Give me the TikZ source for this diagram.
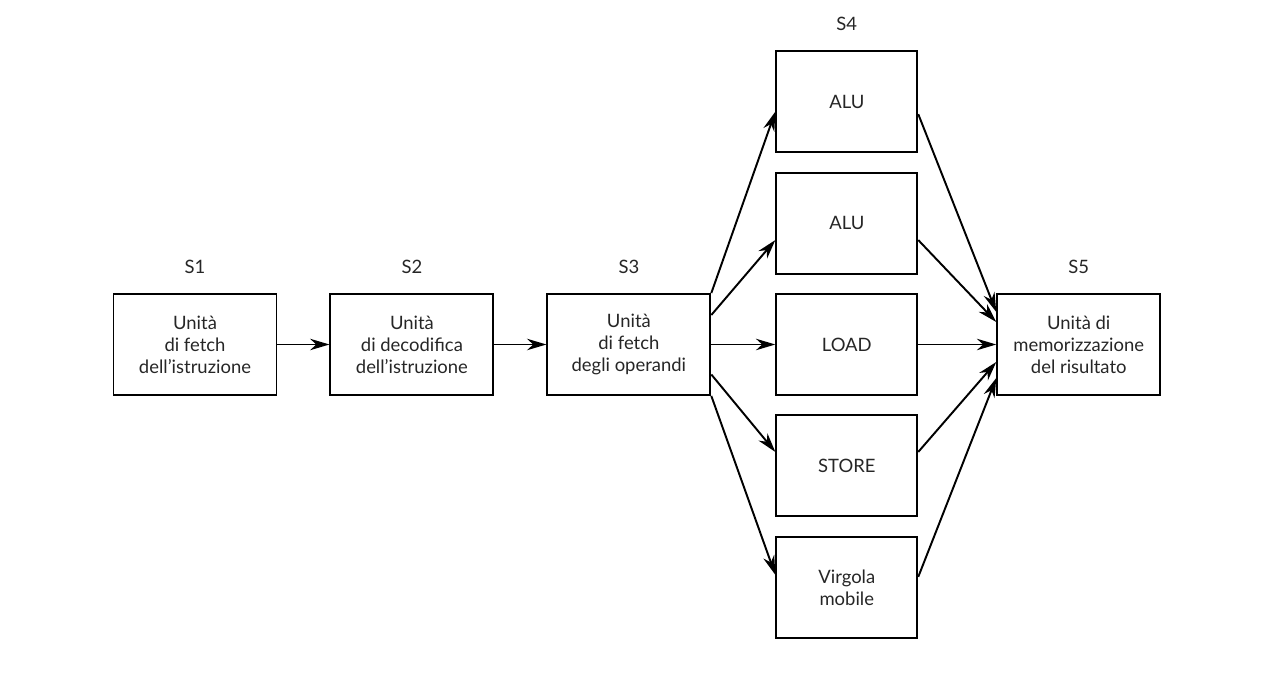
\documentclass[tikz,border=0pt]{standalone}
\usepackage{fontspec}
\setmainfont{Lato}
\usetikzlibrary{positioning,arrows.meta}

\begin{document}
\begin{tikzpicture}[
    stage/.style={draw,line width=1.1pt,minimum width=3.26cm,minimum height=2.02cm,align=center,text=black!85,font=\fontsize{10.5}{12.6}\selectfont},
    unit/.style={stage,minimum width=2.82cm},
    tag/.style={text=black!85,font=\fontsize{10.5}{12}\selectfont},
    >={Stealth[length=11pt,width=6.5pt,inset=3.5pt]}
  ]
            \useasboundingbox (0,0) rectangle (25.48,-13.52);
            \node[stage] (s1) at (3.9,-6.89) {Unità\\di fetch\\dell’istruzione};
            \node[stage,right=1.04cm of s1] (s2) {Unità\\di decodifica\\dell’istruzione};
            \node[stage,right=1.04cm of s2] (s3) {Unità\\di fetch\\degli operandi};
            \node[unit,right=1.28cm of s3] (load) {LOAD};
            \node[unit,above=0.37cm of load] (alu2) {ALU};
            \node[unit,above=0.37cm of alu2] (alu1) {ALU};
            \node[unit,below=0.37cm of load] (store) {STORE};
            \node[unit,below=0.37cm of store] (fp) {Virgola\\mobile};
            \node[stage,right=1.56cm of load] (s5) {Unità di\\memorizzazione\\del risultato};

            \node[tag,above=0.27cm of s1] (l1) {S1};
            \node[tag,above=0.27cm of s2] (l2) {S2};
            \node[tag,above=0.27cm of s3] (l3) {S3};
            \node[tag,above=0.27cm of alu1] (l4) {S4};
            \node[tag,above=0.27cm of s5] (l5) {S5};

            \draw[->,line width=1.1pt] (s1) -- (s2);
            \draw[->,line width=1.1pt] (s2) -- (s3);

            \draw[->,line width=1.1pt] (s3.north east) -- ([yshift=-0.2cm]alu1.west);
            \draw[->,line width=1.1pt] ([yshift=0.59cm]s3.east) -- ([yshift=-0.34cm]alu2.west);
            \draw[->,line width=1.1pt] (s3) -- (load);
            \draw[->,line width=1.1pt] ([yshift=-0.6cm]s3.east) -- ([yshift=0.28cm]store.west);
            \draw[->,line width=1.1pt] (s3.south east) -- ([yshift=0.25cm]fp.west);

            \draw[->,line width=1.1pt] ([yshift=-0.25cm]alu1.east) -- ([yshift=0.65cm]s5.west);
            \draw[->,line width=1.1pt] ([yshift=-0.34cm]alu2.east) -- ([yshift=0.45cm]s5.west);
            \draw[->,line width=1.1pt] (load) -- (s5);
            \draw[->,line width=1.1pt] ([yshift=0.28cm]store.east) -- ([yshift=-0.35cm]s5.west);
            \draw[->,line width=1.1pt] ([yshift=0.21cm]fp.east) -- ([yshift=-0.67cm]s5.west);
\end{tikzpicture}
\end{document}
